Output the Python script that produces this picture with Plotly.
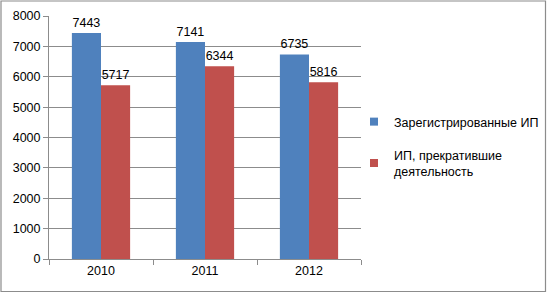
import plotly.graph_objects as go

categories = ["2010", "2011", "2012"]
registered = [7443, 7141, 6735]
ceased = [5717, 6344, 5816]
series_names = ["Зарегистрированные ИП", "ИП, прекратившие<br>деятельность"]
y_ticks = [0, 1000, 2000, 3000, 4000, 5000, 6000, 7000, 8000]

W, H = 547, 293
L, R, T, B = 49, 361, 16, 259

def px(x):
    return (x - L) / (R - L)

def py(y):
    return (B - y) / (B - T)

font = dict(family="Liberation Sans, Arial, sans-serif", size=12.5, color="#000000")
blue, red = "#4F81BD", "#C0504D"

fig = go.Figure()
fig.add_trace(go.Bar(x=categories, y=registered, name=series_names[0],
                     marker=dict(color=blue, line=dict(width=0)),
                     text=registered, textposition="outside", textfont=font,
                     cliponaxis=False, showlegend=False))
fig.add_trace(go.Bar(x=categories, y=ceased, name=series_names[1],
                     marker=dict(color=red, line=dict(width=0)),
                     text=ceased, textposition="outside", textfont=font,
                     cliponaxis=False, showlegend=False))
# legend entries (small square keys like the original)
for nm, col, grp in [(series_names[0], blue, "a"), (series_names[1], red, "b")]:
    fig.add_trace(go.Scatter(x=[None], y=[None], mode="markers", name=nm,
                             marker=dict(symbol="square", size=8, color=col),
                             legendgroup=grp, showlegend=True))

fig.update_layout(
    width=W, height=H,
    margin=dict(l=L, r=W - R, t=T, b=H - B, pad=0, autoexpand=False),
    paper_bgcolor="white", plot_bgcolor="white",
    barmode="group", bargap=0.44, bargroupgap=0,
    font=font,
    showlegend=True,
    legend=dict(x=px(354), y=py(107), xanchor="left", yanchor="top",
                font=font, tracegroupgap=14, itemwidth=30,
                bgcolor="rgba(0,0,0,0)"),
)
fig.update_yaxes(range=[0, 8000], tickvals=y_ticks, showgrid=True,
                 gridcolor="#8c8c8c", gridwidth=1, showline=True,
                 linecolor="#8c8c8c", linewidth=1, ticks="outside",
                 ticklen=5, tickcolor="#8c8c8c", tickfont=font, zeroline=False)
fig.update_xaxes(showline=True, linecolor="#8c8c8c", linewidth=1,
                 ticks="outside", tickson="boundaries", ticklen=5,
                 tickcolor="#8c8c8c", tickfont=font)

fig.add_shape(type="rect", xref="paper", yref="paper",
              x0=px(1), x1=px(545.5), y0=py(291.5), y1=py(1),
              line=dict(color="#8c8c8c", width=1.2), fillcolor="rgba(0,0,0,0)",
              layer="above")

fig.write_html("out.html", config={"displayModeBar": False},
               post_script="document.body.style.margin='0';document.body.style.overflow='hidden';")
